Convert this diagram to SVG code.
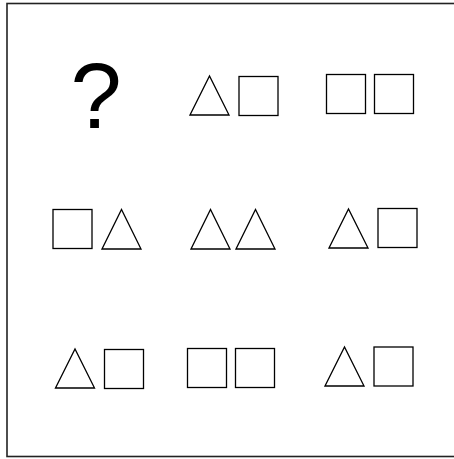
<svg xmlns="http://www.w3.org/2000/svg" width="454" height="459" viewBox="0 0 454 459">
<style>
.s{fill:#fff;stroke:#000;stroke-width:1.3}
.q{font-family:"Liberation Sans",Arial,sans-serif;font-size:92px;fill:#000}
</style>
<rect x="0" y="0" width="454" height="459" fill="#fff"/>
<rect x="7" y="3.5" width="470" height="453" fill="none" stroke="#222" stroke-width="1.6"/>
<g id="cell-1-1"><text class="q" x="96" y="128" text-anchor="middle">?</text></g>
<g id="cell-1-2">
<polygon class="s" points="190,115 209.5,76 229,115"/>
<rect class="s" x="239" y="76.5" width="39" height="39"/>
</g>
<g id="cell-1-3">
<rect class="s" x="326.5" y="74.5" width="39" height="39"/>
<rect class="s" x="374.5" y="74.5" width="39" height="39"/>
</g>
<g id="cell-2-1">
<rect class="s" x="53" y="209.5" width="39" height="39"/>
<polygon class="s" points="102,249 121.5,209.5 141,249"/>
</g>
<g id="cell-2-2">
<polygon class="s" points="191,249 210.5,209.5 230,249"/>
<polygon class="s" points="236,249 255.5,209.5 275,249"/>
</g>
<g id="cell-2-3">
<polygon class="s" points="329,248 348.5,209 368,248"/>
<rect class="s" x="378" y="208.5" width="39" height="39"/>
</g>
<g id="cell-3-1">
<polygon class="s" points="55.5,388 75,349 94.5,388"/>
<rect class="s" x="104.5" y="349.5" width="39" height="39"/>
</g>
<g id="cell-3-2">
<rect class="s" x="187.5" y="348.5" width="39" height="39"/>
<rect class="s" x="235.5" y="348.5" width="39" height="39"/>
</g>
<g id="cell-3-3">
<polygon class="s" points="325,386 344.5,347 364,386"/>
<rect class="s" x="374" y="347" width="39" height="39"/>
</g>
</svg>
